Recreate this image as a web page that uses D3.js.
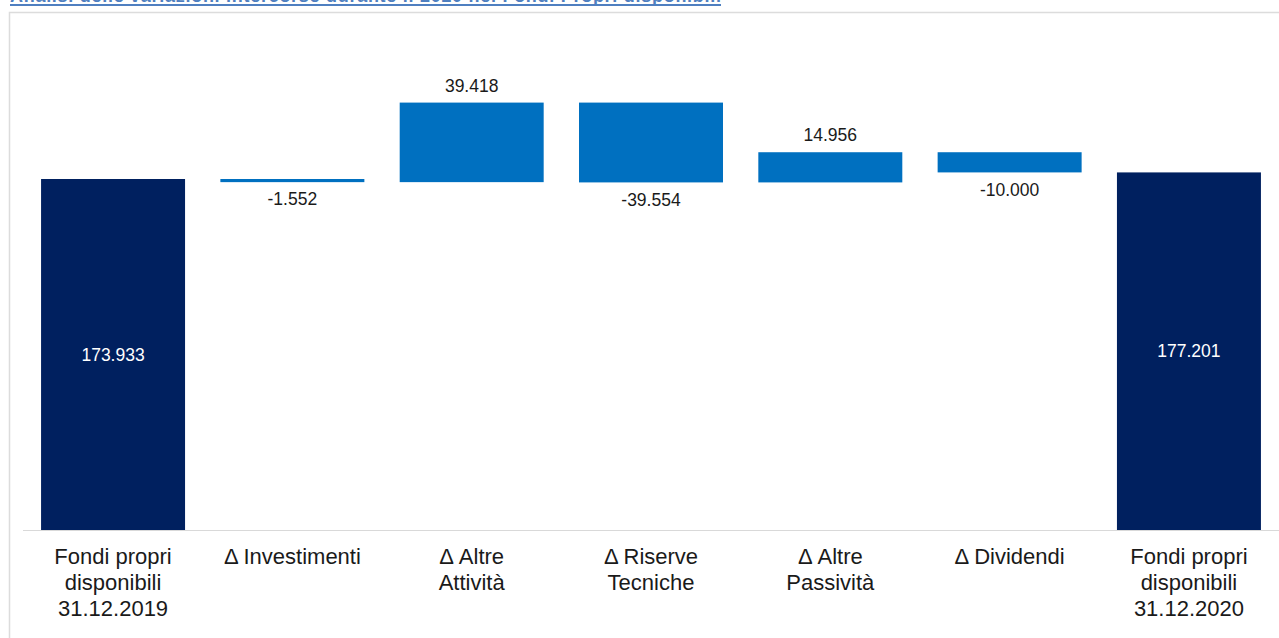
<!DOCTYPE html>
<html>
<head>
<meta charset="utf-8">
<script src="https://cdn.jsdelivr.net/npm/d3@7"></script>
<style>
  body { margin: 0; background: #fff; overflow: hidden; }
  svg { display: block; font-family: "Liberation Sans", Arial, sans-serif; }
</style>
</head>
<body>
<div id="chart"></div>
<script>
// categorie (asse x), ogni riga e' una riga dell'etichetta
const categorie = [
  ["Fondi propri", "disponibili", "31.12.2019"],
  ["Δ Investimenti"],
  ["Δ Altre", "Attività"],
  ["Δ Riserve", "Tecniche"],
  ["Δ Altre", "Passività"],
  ["Δ Dividendi"],
  ["Fondi propri", "disponibili", "31.12.2020"]
];
// valori (migliaia): i totali all'inizio e alla fine, variazioni in mezzo
const valori = [173.933, -1.552, 39.418, -39.554, 14.956, -10.000, 177.201];
const tipo = ["totale", "delta", "delta", "delta", "delta", "delta", "totale"];
const titolo = "Analisi delle variazioni intercorse durante il 2020 nei Fondi Propri disponibili";

const width = 1279, height = 638;
const baseY = 530;

const svg = d3.select("#chart").append("svg")
  .attr("width", width)
  .attr("height", height);

// titolo tagliato in alto (come nello screenshot), sottolineato
svg.append("text")
  .attr("x", 10)
  .attr("y", 2)
  .attr("fill", "#4f7fc0")
  .style("font-size", "18px")
  .style("font-weight", "bold")
  .attr("textLength", 711)
  .text(titolo);
svg.append("line")
  .attr("x1", 10).attr("x2", 721)
  .attr("y1", 5).attr("y2", 5)
  .attr("stroke", "#4f7fc0")
  .attr("stroke-width", 2);

// cornice grigia del grafico
svg.append("rect")
  .attr("x", 9.5).attr("y", 12.5)
  .attr("width", 1300).attr("height", 700)
  .attr("fill", "none")
  .attr("stroke", "#dcdcdc")
  .attr("stroke-width", 1.5);

// calcolo inizio/fine di ogni barra (cascata)
let corrente = 0;
const barre = valori.map((v, i) => {
  let y0, y1;
  if (tipo[i] === "totale") {
    y0 = 0; y1 = v; corrente = v;
  } else {
    y0 = corrente; y1 = corrente + v; corrente = y1;
  }
  return { i: i, v: v, tipo: tipo[i], lo: Math.min(y0, y1), hi: Math.max(y0, y1) };
});

const x = d3.scaleBand()
  .domain(d3.range(categorie.length))
  .range([23.4, 1278.6])
  .paddingInner(0.197)
  .paddingOuter(0.0985);

const y = d3.scaleLinear()
  .domain([0, 250])
  .range([baseY, baseY - 250 * 2.018]);

const colore = { totale: "#00205f", delta: "#0070c0" };

// asse orizzontale
svg.append("line")
  .attr("x1", 23).attr("x2", width)
  .attr("y1", baseY + 0.5).attr("y2", baseY + 0.5)
  .attr("stroke", "#d9d9d9")
  .attr("stroke-width", 1);

svg.selectAll("rect.barra")
  .data(barre)
  .join("rect")
  .attr("class", "barra")
  .attr("x", d => x(d.i))
  .attr("width", x.bandwidth())
  .attr("y", d => y(d.hi))
  .attr("height", d => y(d.lo) - y(d.hi))
  .attr("fill", d => colore[d.tipo]);

// etichette valori
svg.selectAll("text.valore")
  .data(barre)
  .join("text")
  .attr("class", "valore")
  .attr("x", d => x(d.i) + x.bandwidth() / 2)
  .attr("y", d => {
    if (d.tipo === "totale") return (y(d.hi) + y(0)) / 2;
    return d.v >= 0 ? y(d.hi) - 17 : y(d.lo) + 17;
  })
  .attr("dy", "0.35em")
  .attr("text-anchor", "middle")
  .attr("fill", d => d.tipo === "totale" ? "#ffffff" : "#1a1a1a")
  .style("font-size", "17.5px")
  .text(d => (d.v < 0 ? "-" : "") + d3.format(".3f")(Math.abs(d.v)));

// etichette categorie
const cat = svg.selectAll("text.cat")
  .data(categorie)
  .join("text")
  .attr("class", "cat")
  .attr("text-anchor", "middle")
  .attr("fill", "#1a1a1a")
  .style("font-size", "22px");
cat.selectAll("tspan")
  .data((d, i) => d.map(r => ({ r: r, i: i })))
  .join("tspan")
  .attr("x", d => x(d.i) + x.bandwidth() / 2)
  .attr("y", (d, j) => 564 + j * 26)
  .text(d => d.r);
</script>
</body>
</html>
